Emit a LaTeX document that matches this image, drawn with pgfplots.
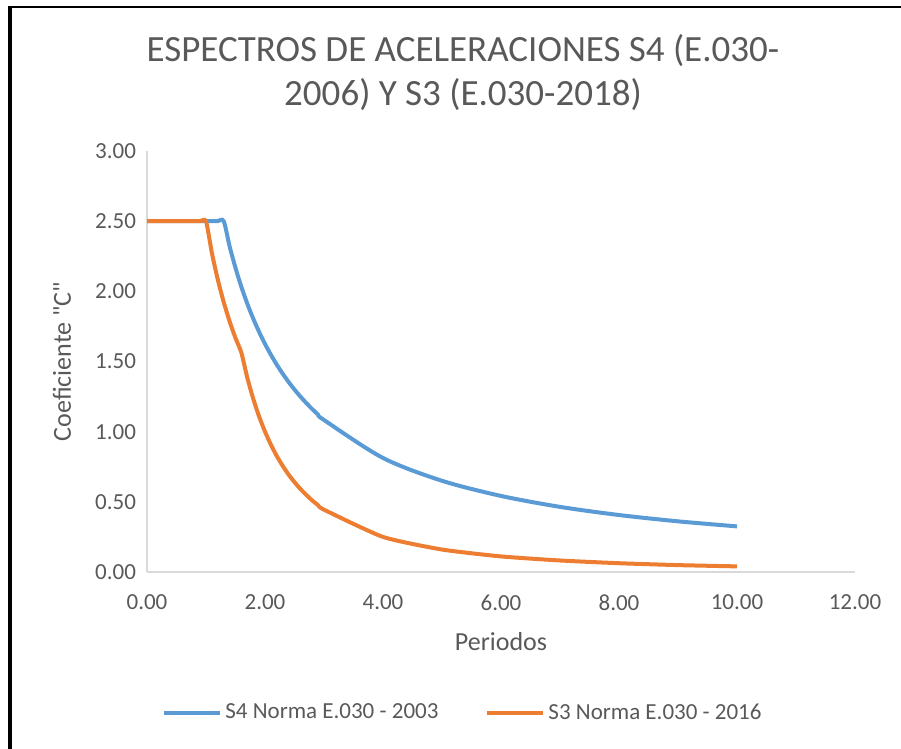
\documentclass[border=0pt]{standalone}
\usepackage{pgfplots}
\pgfplotsset{compat=1.18}
\usepackage{fontspec}
\setmainfont{Carlito}
% family without the TeX-text mapping, for straight double quotes
\newfontfamily\plainquote{Carlito}[Ligatures=ResetAll]
\definecolor{txtgray}{HTML}{595959}
\definecolor{axgray}{HTML}{D9D9D9}
\definecolor{sfour}{HTML}{5B9BD5}
\definecolor{sthree}{HTML}{ED7D31}
\begin{document}
\begin{tikzpicture}
% page frame: 901 x 749 px at 0.5pt per px
\path[use as bounding box] (0,0) rectangle (450.5pt,374.5pt);
\draw[black, line width=2pt] (5pt,0pt) -- (5pt,371.5pt);
\draw[black, line width=1.2pt] (4pt,371pt) -- (450.5pt,371pt);

% two-line title
\node[anchor=base, text=txtgray, font=\fontsize{18.5}{22}\selectfont, inner sep=0pt]
  at (231.5pt,343.5pt) {ESPECTROS DE ACELERACIONES S4 (E.030-};
\node[anchor=base, text=txtgray, font=\fontsize{18.5}{22}\selectfont, inner sep=0pt]
  at (231.5pt,321.5pt) {2006) Y S3 (E.030-2018)};

\begin{axis}[
  at={(73.5pt,88.5pt)}, anchor=south west,
  scale only axis, width=354pt, height=210.5pt,
  xmin=0, xmax=12, ymin=0, ymax=3,
  xtick={0,2,...,12}, ytick={0,0.5,...,3},
  axis lines*=left,
  axis line style={axgray, line width=0.8pt},
  major tick length=0pt,
  /pgf/number format/assume math mode=true,
  /pgf/number format/fixed, /pgf/number format/fixed zerofill,
  /pgf/number format/precision=2,
  tick label style={text=txtgray, font=\fontsize{11.5}{13}\selectfont},
  xticklabel style={yshift=-8pt},
  yticklabel style={xshift=-2pt},
  xlabel={Periodos}, ylabel={Coeficiente {\plainquote"C"}},
  label style={text=txtgray, font=\fontsize{13}{15}\selectfont},
  xlabel style={at={(axis description cs:0.5,-0.166)}, anchor=center},
  ylabel style={at={(axis description cs:-0.12,0.5)}, anchor=center, rotate=0},
  legend style={at={(axis description cs:0.447,-0.335)}, anchor=center,
    draw=none, fill=none, font=\fontsize{11.5}{13}\selectfont, text=txtgray,
    legend columns=2, /tikz/every even column/.append style={column sep=22pt},
    inner sep=0pt, nodes={inner sep=1.5pt}},
  legend image code/.code={\draw[#1, line width=2pt] (0pt,0pt) -- (28pt,0pt);},
  clip=false,
]
\addplot[sfour, line width=2pt, smooth, tension=0.5] coordinates {
 (0.0,2.5) (0.1,2.5) (0.2,2.5) (0.3,2.5) (0.4,2.5) (0.5,2.5) (0.6,2.5)
 (0.7,2.5) (0.8,2.5) (0.9,2.5) (1.0,2.5) (1.1,2.5) (1.2,2.5) (1.3,2.5)
 (1.4,2.321) (1.5,2.167) (1.6,2.031) (1.7,1.912) (1.8,1.806) (1.9,1.711)
 (2.0,1.625) (2.1,1.548) (2.2,1.477) (2.3,1.413) (2.4,1.354) (2.5,1.300)
 (2.6,1.250) (2.7,1.204) (2.8,1.161) (2.9,1.121) (3.0,1.083)
 (4,0.8125) (5,0.650) (6,0.542) (7,0.464) (8,0.406) (9,0.361) (10,0.325)
};
\addlegendentry{S4 Norma E.030 - 2003}
\addplot[sthree, line width=2pt, smooth, tension=0.35] coordinates {
 (0.0,2.5) (0.1,2.5) (0.2,2.5) (0.3,2.5) (0.4,2.5) (0.5,2.5) (0.6,2.5)
 (0.7,2.5) (0.8,2.5) (0.9,2.5) (1.0,2.5)
 (1.1,2.273) (1.2,2.083) (1.3,1.923) (1.4,1.786) (1.5,1.667) (1.6,1.5625)
 (1.7,1.384) (1.8,1.235) (1.9,1.108) (2.0,1.000) (2.1,0.907) (2.2,0.826)
 (2.3,0.756) (2.4,0.694) (2.5,0.640) (2.6,0.592) (2.7,0.549) (2.8,0.510)
 (2.9,0.476) (3.0,0.444)
 (4,0.250) (5,0.160) (6,0.111) (7,0.082) (8,0.0625) (9,0.049) (10,0.040)
};
\addlegendentry{S3 Norma E.030 - 2016}
\end{axis}
\end{tikzpicture}
\end{document}
